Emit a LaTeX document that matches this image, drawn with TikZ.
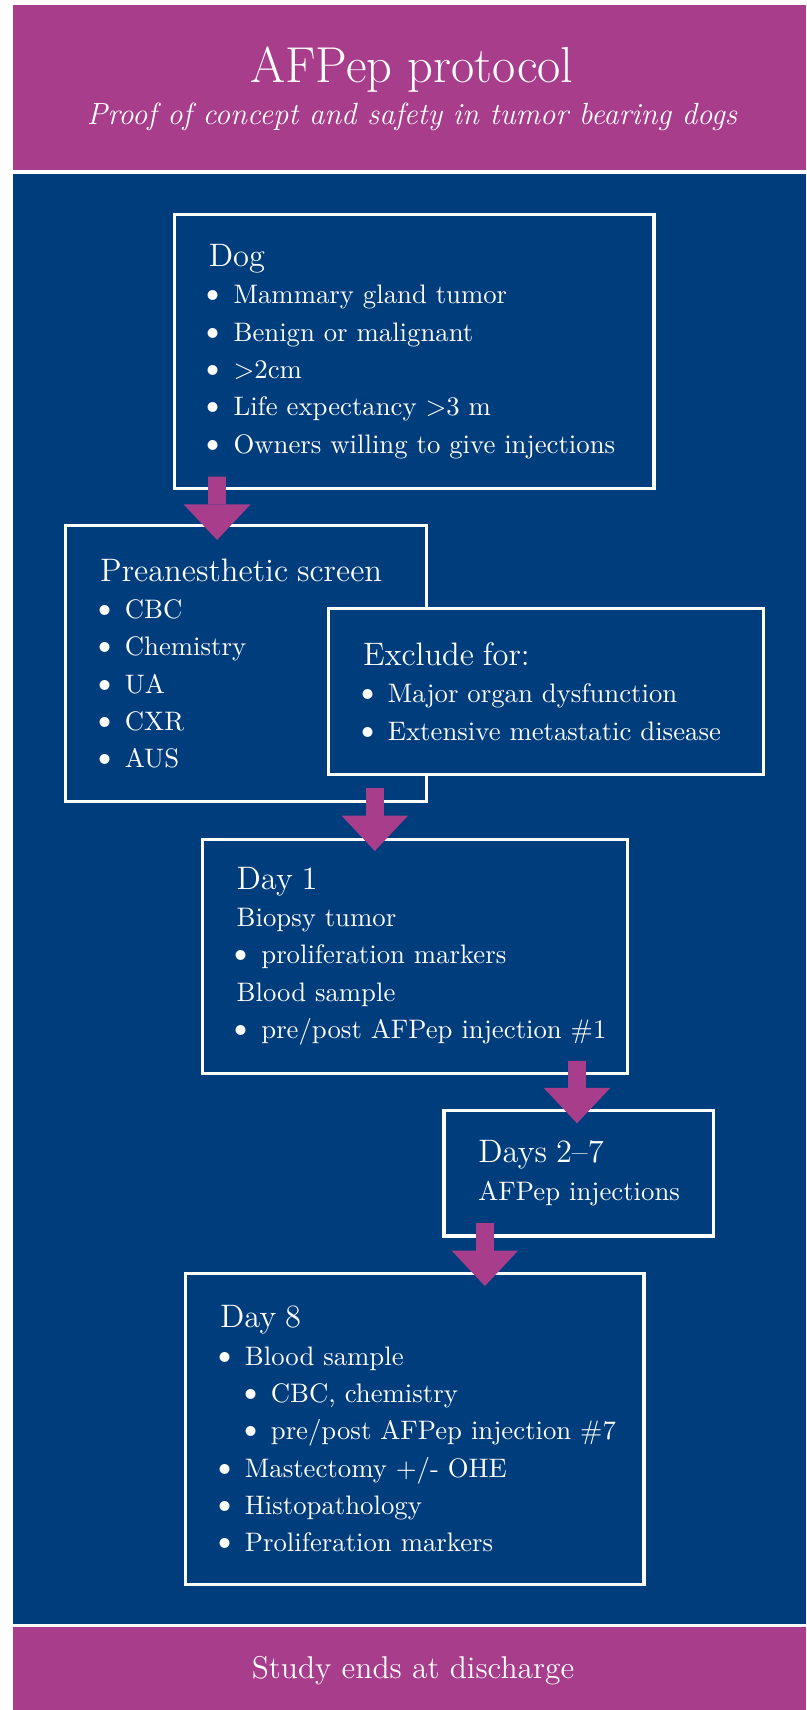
\documentclass[tikz,border=0pt]{standalone}
\usepackage{xcolor}
\usepackage{graphicx}
\usepackage{tikz}
\usetikzlibrary{arrows.meta,calc}
\definecolor{mauve}{RGB}{168,61,140}
\definecolor{navy}{RGB}{0,61,125}

\newcommand{\dotmark}{\makebox[9.9pt][l]{\hspace*{-3.6pt}\raisebox{0pt}{\scalebox{1.3}{\textbullet}}}}
\newcommand{\hd}[1]{\mbox{\fontsize{13}{14.92}\selectfont #1}}
\newcommand{\tline}[1]{\mbox{#1}}
\newcommand{\itm}[1]{\mbox{\dotmark#1}}
\newcommand{\sitm}[1]{\mbox{\hspace*{10.4pt}\dotmark#1}}

\begin{document}
\begin{tikzpicture}[
    x=0.4pt, y=-0.4pt,
    band/.style={fill=mauve},
    panel/.style={fill=navy},
    headtxt/.style={text=white, anchor=base, inner sep=0pt},
    box/.style={rectangle, draw=white, line width=1.3pt, fill=navy, text=white, anchor=north west, align=left, inner xsep=13.8pt, inner ysep=0pt, font=\fontsize{10.7}{14.92}\selectfont},
    flow/.style={draw=mauve, line width=7.1pt, -{Triangle[width=26.7pt, length=14.2pt, line width=0pt]}}
]
    % Frame
    \useasboundingbox (0,0) rectangle (806,1710);
    \fill[white] (0,0) rectangle (806,1710);
    \fill[band] (13,5) rectangle (806,170);
    \fill[panel] (13,173.7) rectangle (806,1624);
    \fill[band] (13,1627) rectangle (806,1710);

    % Header and footer
    \node[headtxt, font=\fontsize{20.2}{24}\selectfont] (title) at (412,83) {AFPep protocol};
    \node[headtxt, font=\fontsize{12.25}{14}\selectfont\itshape] (subtitle) at (412,125) {Proof of concept and safety in tumor bearing dogs};
    \node[headtxt, font=\fontsize{12.6}{15}\selectfont] (footer) at (413,1678.6) {Study ends at discharge};

    % Steps
    \node[box, text width=164.3pt, minimum height=109.5pt] (dog) at (172.7,213)
        {\hd{Dog}\\ \itm{Mammary gland tumor}\\ \itm{Benign or malignant}\\ \itm{>2cm}\\ \itm{Life expectancy >3 m}\\ \itm{Owners willing to give injections}};
    \node[box, text width=116.7pt, minimum height=110.4pt] (pre) at (64,524)
        {\hd{Preanesthetic screen}\\ \itm{CBC}\\ \itm{Chemistry}\\ \itm{UA}\\ \itm{CXR}\\ \itm{AUS}};
    \node[box, text width=146.2pt, minimum height=66.3pt] (excl) at (327,607)
        {\hd{Exclude for:}\\ \itm{Major organ dysfunction}\\ \itm{Extensive metastatic disease}};
    \node[box, text width=142.4pt, minimum height=93.6pt] (day1) at (200.5,837.5)
        {\hd{Day 1}\\ \tline{Biopsy tumor}\\ \itm{proliferation markers}\\ \tline{Blood sample}\\ \itm{pre/post AFPep injection \#1}};
    \node[box, text width=80.1pt, minimum height=50.1pt] (days) at (442.3,1109)
        {\hd{Days 2--7}\\ \tline{AFPep injections}};
    \node[box, text width=155.7pt, minimum height=124.4pt] (day8) at (184,1271.7)
        {\hd{Day 8}\\ \itm{Blood sample}\\ \sitm{CBC, chemistry}\\ \sitm{pre/post AFPep injection \#7}\\ \itm{Mastectomy +/- OHE}\\ \itm{Histopathology}\\ \itm{Proliferation markers}};

    % Arrows between steps
    \draw[flow] ($(dog.south west)+(44.4,-13.4)$) -- ($(pre.north west)+(153.1,16)$);
    \draw[flow] ($(pre.south west)+(310.8,-15)$) -- ($(day1.north west)+(174.3,13.5)$);
    \draw[flow] ($(day1.south west)+(376.5,-13.9)$) -- ($(days.north west)+(134.7,14.3)$);
    \draw[flow] ($(days.south west)+(42.6,-14.3)$) -- ($(day8.north west)+(300.9,14.3)$);

\end{tikzpicture}
\end{document}
